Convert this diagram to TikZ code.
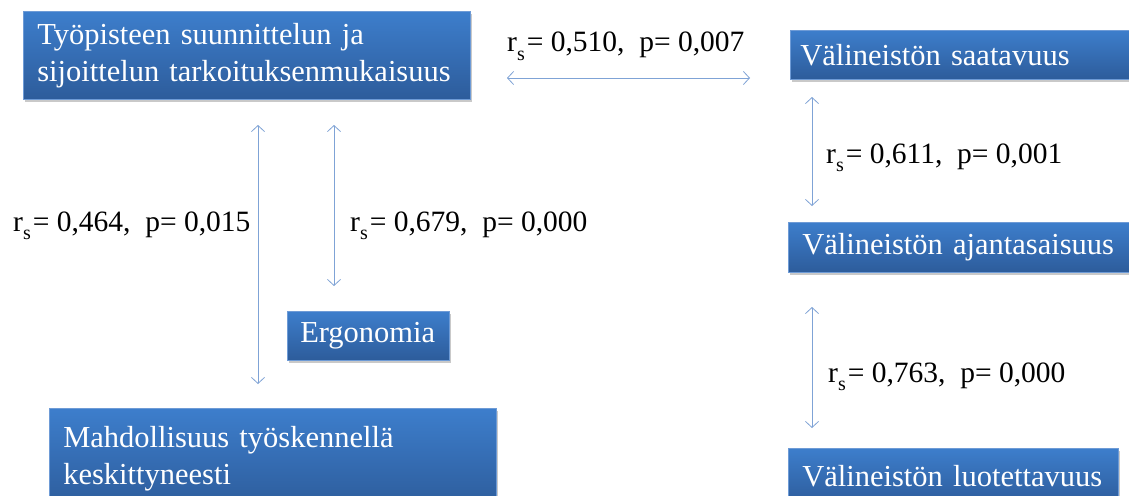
\documentclass[tikz,border=0pt]{standalone}
\usepackage{fontspec}
\setmainfont{Liberation Serif}
\usetikzlibrary{arrows.meta,shadows}
\definecolor{boxtop}{HTML}{3D7ECC}
\definecolor{boxbot}{HTML}{2D5C9B}
\definecolor{boxline}{HTML}{6E9BD6}
\definecolor{arr}{HTML}{7FA3D6}
\newcommand\rsub{r\raisebox{-0.28em}{\fontsize{20}{20}\selectfont s}\kern2pt}
\begin{document}
\begin{tikzpicture}[x=1pt,y=-1pt,
  box/.style={anchor=north west, rectangle, top color=boxtop, bottom color=boxbot,
    draw=boxline, line width=0.5pt, text=white, font=\fontsize{30.5}{37}\selectfont,
    align=left, inner ysep=0pt,
    drop shadow={shadow xshift=2pt, shadow yshift=-3pt, opacity=0.35, fill=black!60}},
  lbl/.style={font=\fontsize{29.5}{34}\selectfont, anchor=base west, inner sep=0pt},
  dbl/.style={draw=arr, line width=0.8pt,
    {Straight Barb[length=6pt,width=13pt]}-{Straight Barb[length=6pt,width=13pt]}}
]
\useasboundingbox (0,0) rectangle (1129,495);
\fill[white] (0,0) rectangle (1129,495);
\clip (0,0) rectangle (1129,495);

% boxes
\node[box, inner xsep=14pt, text width=419pt, minimum height=88pt] (A) at (23,11)
  {Työpisteen suunnittelun ja\\sijoittelun tarkoituksenmukaisuus};
\node[box, inner xsep=10pt, text width=325pt, minimum height=49pt] (B) at (790,30)
  {Välineistön saatavuus};
\node[box, inner xsep=14pt, text width=322pt, minimum height=50pt] (C) at (788,222)
  {Välineistön ajantasaisuus};
\node[box, inner xsep=14pt, text width=302pt, minimum height=56pt] (D) at (788,448)
  {Välineistön luotettavuus};
\node[box, inner xsep=13pt, text width=136pt, minimum height=49pt] (G) at (287,311)
  {Ergonomia};
\node[box, inner xsep=14pt, text width=419pt, minimum height=100pt] (E) at (49,408)
  {Mahdollisuus työskennellä\\keskittyneesti};

% connector end points
\coordinate (h1) at (507,78);  \coordinate (h2) at (750,78);
\coordinate (l1) at (258,125); \coordinate (l2) at (258,384);
\coordinate (m1) at (334,125); \coordinate (m2) at (334,286);
\coordinate (r1) at (812,97);  \coordinate (r2) at (812,206);
\coordinate (s1) at (812,307); \coordinate (s2) at (812,428);

\draw[dbl] (h1) -- (h2);
\draw[dbl] (l1) -- (l2);
\draw[dbl] (m1) -- (m2);
\draw[dbl] (r1) -- (r2);
\draw[dbl] (s1) -- (s2);

% labels
\node[lbl] (t1) at (507,52) {\rsub= 0,510,\ \ p= 0,007};
\node[lbl] (t2) at (13,231) {\rsub= 0,464,\ \ p= 0,015};
\node[lbl] (t3) at (350,231) {\rsub= 0,679,\ \ p= 0,000};
\node[lbl] (t4) at (826,163) {\rsub= 0,611,\ \ p= 0,001};
\node[lbl] (t5) at (828,382) {\rsub= 0,763,\ \ p= 0,000};
\end{tikzpicture}
\end{document}
